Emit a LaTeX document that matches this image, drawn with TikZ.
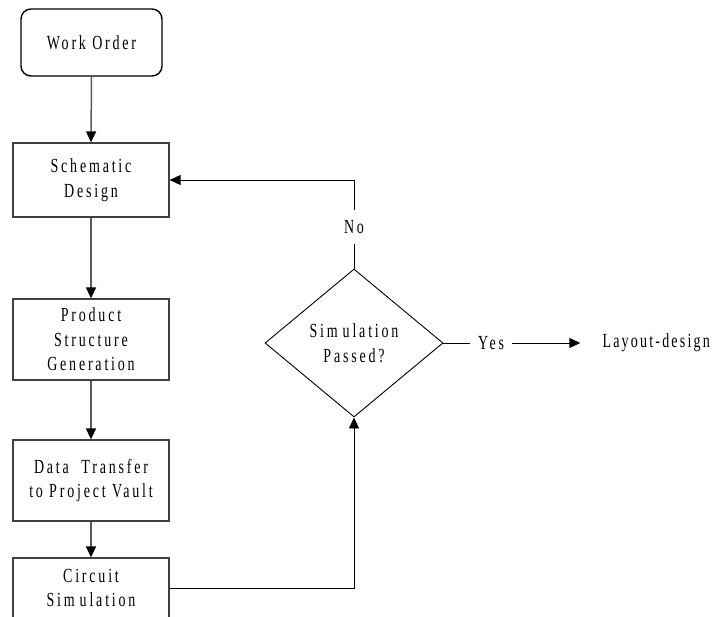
\documentclass[tikz,border=0pt]{standalone}
\usepackage{fontspec}
\setmainfont{Liberation Serif}[FakeStretch=0.7,LetterSpace=14]
\usetikzlibrary{arrows.meta,shapes.geometric}
\begin{document}
\begin{tikzpicture}[x=1pt,y=-1pt,
  font=\fontsize{20}{24.5}\selectfont,
  stepbox/.style={draw=black!75,line width=1.3pt,inner sep=0pt,
    minimum width=156pt,align=center},
  startbox/.style={draw=black,line width=1.4pt,rounded corners=10pt,
    inner sep=0pt,minimum width=141pt,minimum height=67pt,align=center},
  decision/.style={draw=black,line width=0.9pt,diamond,inner sep=0pt,
    minimum width=178pt,minimum height=148pt,align=center},
  flow/.style={draw=black!65,line width=1.5pt,
    -{Triangle[length=11pt,width=10pt,color=black]}},
  loop/.style={draw=black,line width=0.9pt},
  looparrow/.style={loop,-{Triangle[length=11pt,width=10pt]}},
  label/.style={inner sep=0pt}]
\useasboundingbox (0,0) rectangle (712,616);

% main column of process steps
\node[startbox] (wo) at (91.5,42.5) {Work Order};
\node[stepbox,minimum height=74pt] (sd) at (91,180) {Schematic\\Design};
\node[stepbox,minimum height=81pt] (ps) at (91,339.5) {Product\\Structure\\Generation};
\node[stepbox,minimum height=81pt] (dt) at (91,480.5) {Data\ \ Transfer\\to Project Vault};
\node[stepbox,minimum height=60pt] (cs) at (91,588) {Circuit\\Sim\kern5pt ulation};

% decision and its outcomes
\node[decision] (dia) at (354,343) {Sim\kern5pt ulation\\Passed?};
\node[label,minimum height=33pt] (no) at (354,227) {No};
\node[label,inner xsep=8pt,minimum height=20pt] (yes) at (491,343) {Yes};
\node[label,anchor=east,inner xsep=0pt] (lay) at (710,343)
  {\addfontfeature{LetterSpace=11}Layout-design};

% connectors
\draw[flow] (wo.south) -- (sd.north);
\draw[flow] (sd.south) -- (ps.north);
\draw[flow] (ps.south) -- (dt.north);
\draw[flow] (dt.south) -- (cs.north);
\draw[looparrow] (cs.east) -| (dia.south);
\draw[loop] (dia.north) -- (no.south);
\draw[looparrow] (no.north) |- (sd.east);
\draw[loop] (dia.east) -- (yes.west);
\draw[looparrow,shorten >=22pt] (yes.east) -- (lay.west);
\end{tikzpicture}
\end{document}
